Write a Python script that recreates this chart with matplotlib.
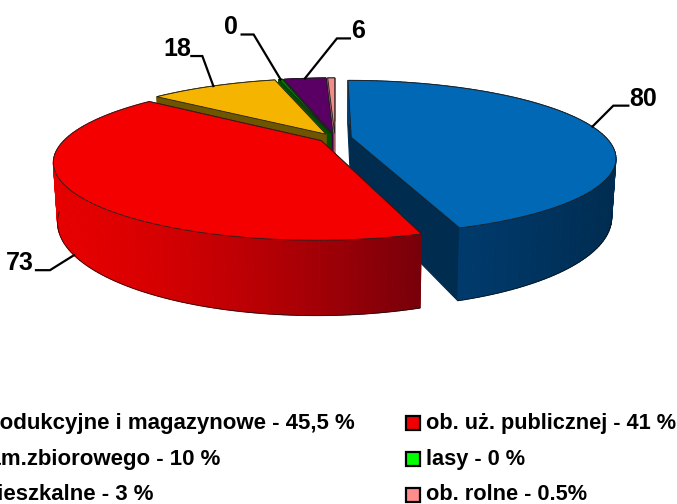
import numpy as np
import matplotlib
matplotlib.use("Agg")
import matplotlib.pyplot as plt
from matplotlib.colors import to_rgb
from matplotlib.patches import Polygon, Rectangle

plt.rcParams['font.family'] = ['Liberation Sans Narrow', 'Liberation Sans', 'DejaVu Sans']

# real slice sizes, the labels on the chart are rounded
values = [80, 72, 18, 0.5, 6, 1]
labels = ["80", "73", "18", "0", "6", None]
top_colors = ["#0068b4", "#f50000", "#f4b400", "#008000", "#5a0064", "#f08c8c"]
wall_left = ["#004078", "#e60000", "#6e5500", "#005000", "#3c0046", "#a06060"]
wall_right = ["#002c50", "#78000a", "#6e5500", "#005000", "#3c0046", "#a06060"]
cut_colors = ["#002c50", "#780000", "#6e5500", "#005000", "#3c0046", "#a06060"]

legend_left = ["ob. produkcyjne i magazynowe - 45,5 %", "ob. zam.zbiorowego - 10 %", "ob. mieszkalne - 3 %"]
legend_right = ["ob. uż. publicznej - 41 %", "lasy - 0 %", "ob. rolne - 0.5%"]
legend_right_colors = ["#f00000", "#00ff00", "#ff8c8c"]

CX, CY = 335, 138
RX, RY = 255, 72
K = 0.26
EXPLODE = 0.065
DEPTH = 55


def project(u, v, bottom=False):
    s = 1 / (1 + K * v)
    x = RX * u * s
    y = -RY * v * s
    if bottom:
        x = x * 0.985
        y = y + DEPTH * s
    return CX + x, CY + y


def rim(a0, a1, ox, oy, n=120):
    t = np.linspace(a0, a1, n)
    return ox + np.sin(t), oy + np.cos(t)


def quad(ax, u0, v0, u1, v1, color, z):
    xa, ya = project(u0, v0)
    xb, yb = project(u1, v1)
    xc, yc = project(u1, v1, True)
    xd, yd = project(u0, v0, True)
    ax.add_patch(Polygon([(xa, ya), (xb, yb), (xc, yc), (xd, yd)], closed=True,
                         facecolor=color, edgecolor=color, lw=0.8, zorder=z))


fig = plt.figure(figsize=(6.77, 5.04), dpi=100)
ax = fig.add_axes([0, 0, 1, 1])
ax.set_xlim(0, 677)
ax.set_ylim(504, 0)
ax.axis("off")

edges = np.cumsum([0] + values) / sum(values) * 2 * np.pi
# blue goes before red, the red corner sits on top of the blue cut face
draw_order = [5, 4, 3, 2, 0, 1]

for z, i in enumerate(draw_order):
    a0, a1 = edges[i], edges[i + 1]
    mid = (a0 + a1) / 2
    ox, oy = EXPLODE * np.sin(mid), EXPLODE * np.cos(mid)
    us, vs = rim(a0, a1, ox, oy)
    zz = z * 10 + 1
    # cut faces
    quad(ax, ox, oy, us[0], vs[0], cut_colors[i], zz)
    quad(ax, ox, oy, us[-1], vs[-1], cut_colors[i], zz)
    # outer wall, shaded left to right, far pieces first
    c_l = np.array(to_rgb(wall_left[i]))
    c_r = np.array(to_rgb(wall_right[i]))
    px, _ = project(us, vs)
    t = (px - px.min()) / max(px.max() - px.min(), 1)
    for j in np.argsort(-vs[:-1]):
        col = c_l + (c_r - c_l) * t[j] ** 1.5
        quad(ax, us[j], vs[j], us[j + 1], vs[j + 1], tuple(col), zz + 1)
    front = vs < -0.2
    if front.any():
        bx, by = project(us[front], vs[front], True)
        ax.plot(bx, by, color="#101010", lw=0.5, zorder=zz + 2)
    # top face
    xs, ys = project(np.r_[ox, us], np.r_[oy, vs])
    ax.add_patch(Polygon(np.c_[xs, ys], closed=True, facecolor=top_colors[i],
                         edgecolor="#202020", lw=0.6, zorder=zz + 3))

# leader lines: offsets from the rim to elbow and to line end, then the text
leader = {
    0: ((21, -21), (36, -21), (51, -28), "top"),
    1: ((-24, 15), (-38, 15), (-54, 8), "bottom"),
    2: ((-11, -30), (-22, -30), (-36, -37), "top"),
    3: ((-27, -45), (-39, -45), (-50, -52), "top"),
    4: ((32, -40), (45, -40), (53, -47), "top"),
}
for i, (elbow, end, txt, where) in leader.items():
    mid = (edges[i] + edges[i + 1]) / 2
    ox, oy = EXPLODE * np.sin(mid), EXPLODE * np.cos(mid)
    x0, y0 = project(ox + np.sin(mid), oy + np.cos(mid), where == "bottom")
    ax.plot([x0, x0 + elbow[0], x0 + end[0]], [y0, y0 + elbow[1], y0 + end[1]],
            color="black", lw=1.6, zorder=100, solid_joinstyle="miter")
    ax.text(x0 + txt[0], y0 + txt[1], labels[i], fontsize=18, fontweight="bold",
            ha="center", va="center", zorder=101)

row_y = [423, 459, 495]
for y, name in zip(row_y, legend_left):
    ax.text(-62, y, name, fontsize=16, fontweight="bold", ha="left", va="center")
for y, name, col in zip(row_y, legend_right, legend_right_colors):
    ax.add_patch(Rectangle((406, y - 7), 14, 14, facecolor=col, edgecolor="black", lw=1.6))
    ax.text(426, y, name, fontsize=15.7, fontweight="bold", ha="left", va="center")

fig.savefig("out.png", dpi=100)
